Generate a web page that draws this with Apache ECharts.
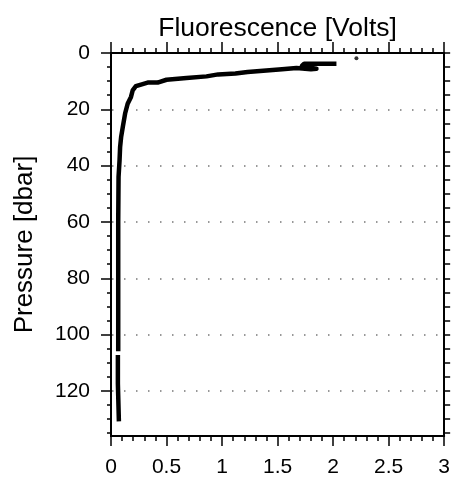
<!DOCTYPE html>
<html>
<head>
<meta charset="utf-8">
<script src="https://cdn.jsdelivr.net/npm/echarts@6/dist/echarts.min.js"></script>
<style>html,body{margin:0;padding:0;background:#fff}#c{width:453px;height:485px}</style>
</head>
<body>
<div id="c"></div>
<script>
// Fluorescence [Volts] vs Pressure [dbar]
var fluorescence = [2.03, 1.74, 1.72, 1.78, 1.85, 1.80, 1.67, 1.54, 1.23, 1.12, 0.965, 0.86, 0.68, 0.50, 0.42, 0.33, 0.27, 0.224, 0.195, 0.18, 0.15, 0.127, 0.106, 0.091, 0.082, 0.077, 0.068, 0.065, 0.065, null, 0.062, 0.062, 0.071, 0.071];
var pressure     = [3.8, 3.8, 4.5, 5.1, 5.6, 5.8, 5.3, 5.8, 6.75, 7.3, 7.6, 8.3, 8.9, 9.5, 10.5, 10.5, 11.2, 11.8, 13.3, 15.6, 18.0, 21.5, 26.3, 29.9, 33.4, 38.1, 44.0, 60.0, 105.9, null, 107.2, 117.4, 117.6, 130.8];
var outlierX = [2.21];
var outlierP = [1.9];
var xTicks = [0, 0.5, 1, 1.5, 2, 2.5, 3];
var pMajor = [0, 20, 40, 60, 80, 100, 120];
var pMinor = [0,5,10,15,20,25,30,35,40,45,50,55,60,65,70,75,80,85,90,95,100,105,110,115,120,125,130,135];

var profile = fluorescence.map(function (v, i) {
  return (v === null) ? [null, null] : [v, pressure[i]];
});
var outliers = outlierX.map(function (v, i) { return [v, outlierP[i]]; });

var FONT = 'Liberation Sans, Arial, Helvetica, sans-serif';
var chart = echarts.init(document.getElementById('c'), null, {renderer: 'canvas'});
var axisLine = {show: true, onZero: false, lineStyle: {color: '#000', width: 2}};
chart.setOption({
  animation: false,
  backgroundColor: '#fff',
  grid: {left: 111, right: 3, top: 53, bottom: 49, containLabel: false},
  xAxis: [
    {type: 'value', position: 'bottom', min: 0, max: 3, interval: 0.5,
     axisLine: axisLine,
     axisTick: {show: true, inside: false, length: 10, lineStyle: {color: '#000', width: 1.5}},
     minorTick: {show: true, splitNumber: 5, length: 5, lineStyle: {color: '#000', width: 1.5}},
     axisLabel: {show: true, margin: 21, color: '#000', fontSize: 21, fontFamily: FONT,
       customValues: xTicks, formatter: function (v) { return String(v); }},
     splitLine: {show: false}},
    {type: 'value', position: 'top', min: 0, max: 3, interval: 0.5,
     name: 'Fluorescence [Volts]', nameLocation: 'middle', nameGap: 11,
     nameTextStyle: {color: '#000', fontSize: 26.5, fontFamily: FONT},
     axisLine: axisLine,
     axisTick: {show: true, inside: false, length: 11, lineStyle: {color: '#000', width: 1.5}},
     minorTick: {show: true, splitNumber: 5, length: 5, lineStyle: {color: '#000', width: 1.5}},
     axisLabel: {show: false}, splitLine: {show: false}}
  ],
  yAxis: [
    {type: 'value', position: 'left', inverse: true, min: 0, max: 136, interval: 20,
     name: 'Pressure [dbar]', nameLocation: 'middle', nameGap: 73,
     nameTextStyle: {color: '#000', fontSize: 26, fontFamily: FONT},
     axisLine: axisLine,
     axisTick: {show: true, inside: false, length: 10, customValues: pMajor, lineStyle: {color: '#000', width: 1.5}},
     axisLabel: {show: true, margin: 21, color: '#000', fontSize: 21, fontFamily: FONT, customValues: pMajor},
     splitLine: {show: true, lineStyle: {color: '#777', width: 1.5, type: [1.5, 10.5], dashOffset: 11}}},
    {type: 'value', position: 'left', inverse: true, min: 0, max: 136, interval: 20,
     axisLine: axisLine,
     axisTick: {show: true, inside: false, length: 4, customValues: pMinor, lineStyle: {color: '#000', width: 1.5}},
     axisLabel: {show: false}, splitLine: {show: false}},
    {type: 'value', position: 'right', inverse: true, min: 0, max: 136, interval: 20,
     axisLine: axisLine,
     axisTick: {show: true, inside: false, length: 6, customValues: pMinor, lineStyle: {color: '#000', width: 1.5}},
     axisLabel: {show: false}, splitLine: {show: false}}
  ],
  series: [
    {type: 'line', xAxisIndex: 0, yAxisIndex: 0, data: profile, symbol: 'none',
     connectNulls: false, clip: true,
     lineStyle: {color: '#000', width: 4.5, cap: 'butt', join: 'round'}},
    {type: 'scatter', xAxisIndex: 0, yAxisIndex: 0, data: outliers, symbol: 'circle',
     symbolSize: 4, itemStyle: {color: '#000'}}
  ]
});
</script>
</body>
</html>
